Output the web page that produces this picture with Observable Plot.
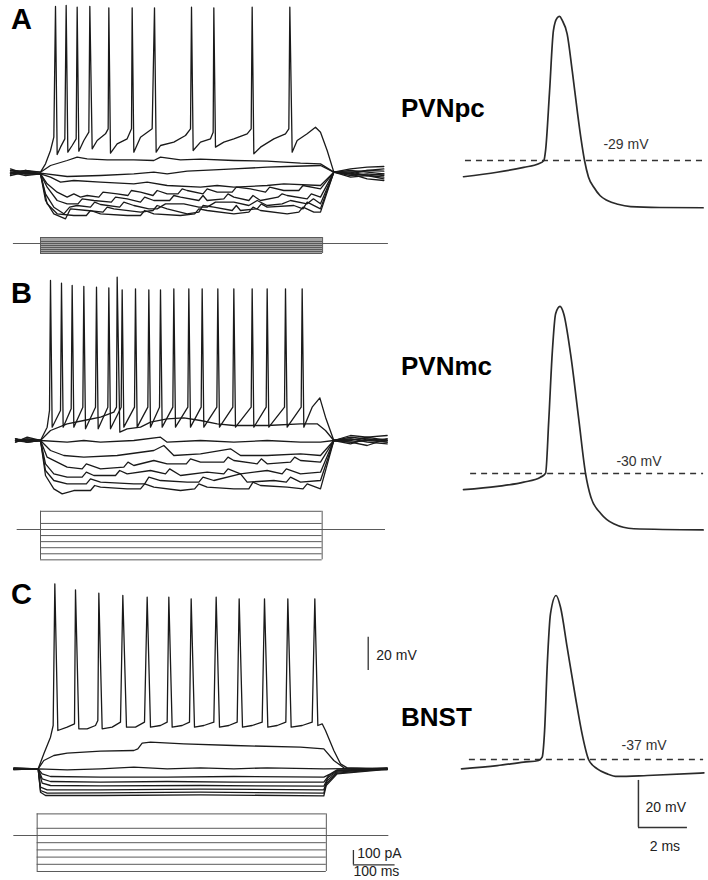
<!DOCTYPE html>
<html><head><meta charset="utf-8">
<script src="https://cdn.jsdelivr.net/npm/d3@7"></script>
<script src="https://cdn.jsdelivr.net/npm/@observablehq/plot@0.6"></script>
<style>
body{margin:0;background:#fff;}
#fig{position:relative;width:708px;height:880px;overflow:hidden;background:#fff;font-family:"Liberation Sans",Arial,sans-serif;}
.lab{position:absolute;font-weight:bold;line-height:1;color:#000;font-family:"Liberation Sans",Arial,sans-serif;white-space:nowrap;}
</style></head><body><div id="fig"></div>
<script>
// ---------- labels ----------
const panelLetters = ["A", "B", "C"];
const regions = ["PVNpc", "PVNmc", "BNST"];
const thresholds = [-29, -30, -37];           // mV (dashed line + label)
const stepCurrents = [150, 50, 0, -50, -100, -150, -200, -250]; // pA protocol levels

// ---------- left traces: [time ms, Vm mV] ----------
// Row A (PVNpc)
const aT1 = [[-72,-64],[-36,-64.4],[0,-65],[12,-60],[24,-52],[32,-44],[36,34.4],[40,-54.4],
[48,-50],[58.4,-45],[61.6,35],[65.6,-53],
[76,-49],[85.6,-45],[88,34],[92,-52.4],
[104,-46],[116,-41],[118.4,34.4],[124,-51],
[136,-46],[156,-42],[162.4,-39],[164,33.6],[168,-53.6],
[184,-48],[208,-45],[218.4,-39],[220,33.6],[224,-53],
[240,-44],[268,-39],[273.6,33.6],[277.6,-53],
[288,-49],[320,-47],[348,-43],[360,-39],[362.4,34],[366.4,-52],
[384,-47],[408,-45],[414.4,-41],[416,33.6],[420,-50],
[440,-47],[464,-45],[496,-42],[505.6,-39],[508,34],[512,-54],
[528,-50],[560,-45],[588,-42],[596,-39],[598.4,34],[604,-53],
[616,-46],[640,-42],[660,-38],[672,-41],[688,-52],[704,-65],
[744,-65],[784,-64],[824,-63]];
const aT2 = [[-72,-66],[-36,-64],[0,-65],[24,-61],[64,-58],[88,-56],[112,-57],[160,-57.6],[224,-57.6],[272,-58],[288,-56],[336,-57.6],[384,-57.2],[464,-58],[544,-58.4],[624,-59.6],[672,-60],[704,-65],[744,-63],[784,-62],[824,-61.6]];
const aT3 = [[-72,-63],[-36,-66],[0,-65.6],[64,-67.6],[144,-67],[224,-66],[272,-65],[304,-66],[352,-64.4],[416,-63.6],[464,-63],[544,-62],[592,-61.6],[672,-61],[704,-65],[744,-66],[784,-67],[824,-68]];
const aT4 = [[-72,-65],[-36,-67],[0,-66],[24,-68],[48,-71],[80,-70],[144,-71],[224,-72],[256,-71],[304,-73],[384,-74],[424,-73],[464,-74],[544,-73],[584,-72],[672,-73],[704,-65],[744,-64],[784,-65],[824,-66]];
const aT5 = [[-72,-67],[-36,-65],[0,-66],[16,-72],[40,-77],[64,-80],[80,-78],[96,-80],[112,-79],[140,-80],[150,-77],[184,-78],[210,-79],[218,-76],[240,-77],[270,-79],[280,-76],[304,-78],[330,-78],[340,-75],[352,-76],[390,-78],[400,-75],[424,-77],[460,-77],[470,-74],[504,-75],[540,-77],[550,-74],[584,-76],[620,-76],[630,-73],[672,-75],[704,-65],[744,-66],[784,-64],[824,-64.4]];
const aT6 = [[-72,-64],[-36,-66],[0,-66],[16,-74],[40,-82],[64,-84],[90,-84],[100,-81],[128,-82],[170,-83],[180,-80],[208,-81],[240,-83],[250,-80],[272,-82],[310,-82],[320,-79],[336,-80],[380,-82],[390,-79],[400,-82],[440,-81],[450,-78],[464,-80],[500,-82],[510,-79],[528,-82],[570,-80],[580,-78],[592,-79],[640,-81],[650,-78],[672,-80],[704,-65],[744,-67],[784,-66],[824,-67]];
const aT7 = [[-72,-66],[-36,-65],[0,-66],[12,-78],[32,-86],[56,-90],[70,-86],[88,-85],[120,-86],[130,-83],[144,-84.4],[190,-86],[200,-83],[224,-85],[260,-87],[280,-87],[300,-84],[344,-84],[380,-86],[400,-86],[420,-83],[464,-83],[500,-85],[520,-82],[544,-85],[580,-84],[600,-82],[640,-84],[655,-81],[672,-84],[704,-65],[744,-68],[784,-67],[824,-69]];
const aT8 = [[-72,-65],[-36,-66],[0,-66],[12,-82],[32,-90],[60,-93],[72,-87],[112,-88],[150,-89],[160,-86],[176,-87],[240,-89],[270,-88],[280,-85],[304,-87],[352,-90],[380,-89],[390,-85],[416,-86],[460,-88],[470,-85],[480,-88],[520,-87],[530,-84],[544,-86],[608,-85],[630,-87],[640,-83],[672,-87],[704,-65],[744,-66],[784,-69],[824,-70]];
const aT9 = [[-72,-66],[-36,-64],[0,-66],[16,-84],[40,-90],[80,-91],[110,-91],[120,-88],[144,-90],[208,-91],[240,-91],[250,-88],[272,-90],[336,-91],[370,-90],[380,-87],[400,-88],[464,-90],[500,-89],[510,-86],[528,-88],[592,-90],[620,-89],[630,-86],[656,-89],[672,-89],[704,-65],[744,-65],[784,-67],[824,-66]];

// Row B (PVNmc)
const bT1 = [[-60,-65],[-32,-64],[0,-65],[16,-57],[21.6,-47],[24,31],[28,-57],
[48,-47],[50.4,29.4],[54.4,-57],
[73.6,-46],[76,28],[80,-57],
[101.6,-45],[104,27.4],[108,-58],
[132,-45],[134.4,27],[138.4,-58],
[161.6,-45],[164,26.6],[168,-58],
[193.6,-45],[196,25.4],[200,-57],
[225.6,-45],[228,26],[232,-57],
[257.6,-45],[260,25.4],[264,-57],
[285.6,-45],[288,25.4],[292,-57],
[317.6,-45],[320,26],[324,-57],
[353.6,-45],[356,26],[360,-57],
[385.6,-45],[388,26],[392,-57],
[423.2,-45],[425.6,26],[429.6,-57],
[461.6,-45],[464,26],[468,-57],
[505.6,-45],[508,26],[512,-57],
[541.6,-45],[544,26],[548,-57],
[585.6,-45],[588,26],[592,-57],
[625.6,-45],[628,26],[632,-57],
[652,-45],[670.4,-39.4],[684,-51],[704,-65],[744,-63],[784,-64],[832,-65]];
const bT2 = [[-60,-64],[-32,-66],[0,-65],[24,-59],[64,-55],[104,-53],[144,-51],[176,-48],[182.4,-45],[184,33],[190.4,-60],[208,-58],[240,-57],[264,-54],[304,-52],[344,-51.4],[384,-53],[424,-55],[464,-56],[544,-56],[624,-55],[664,-55],[684,-59],[704,-65],[744,-62],[784,-63],[832,-62]];
const bT3 = [[-60,-66],[-32,-63],[0,-65],[64,-66],[104,-65],[144,-66],[224,-65],[288,-63],[304,-66],[384,-65],[464,-66],[544,-65],[624,-66],[672,-66],[704,-65],[744,-67],[784,-64],[832,-66]];
const bT4 = [[-60,-65],[-32,-65],[0,-65],[24,-71],[56,-74],[104,-75],[184,-74],[272,-71],[296,-68],[320,-74],[384,-73],[456,-70],[480,-74],[544,-74],[624,-73],[672,-74],[704,-65],[744,-66],[784,-68],[832,-64]];
const bT5 = [[-60,-64],[-32,-66],[0,-65],[16,-75],[40,-78],[64,-81],[100,-82],[110,-79],[144,-82],[200,-81],[210,-78],[224,-80],[272,-77],[304,-79],[350,-79],[360,-76],[384,-78],[440,-78],[450,-75],[464,-77],[520,-79],[530,-76],[544,-79],[600,-78],[610,-75],[624,-77],[672,-78],[704,-65],[744,-64],[784,-66],[832,-67]];
const bT6 = [[-60,-66],[-32,-64],[0,-65],[12,-79],[32,-85],[64,-87],[100,-87],[110,-84],[128,-86],[180,-86],[190,-83],[208,-85],[264,-83],[300,-85],[310,-82],[336,-86],[400,-84],[440,-85],[450,-82],[480,-85],[544,-83],[580,-85],[590,-82],[624,-85],[672,-84],[704,-65],[744,-65],[784,-63],[832,-65]];
const bT7 = [[-60,-65],[-32,-66],[0,-65],[12,-83],[32,-89],[64,-91],[110,-91],[120,-88],[144,-90],[224,-91],[250,-91],[260,-87],[288,-89],[352,-90],[380,-90],[390,-87],[416,-89],[480,-85],[496,-90],[560,-89],[590,-90],[600,-87],[624,-90],[672,-89],[704,-65],[744,-64],[784,-65],[832,-66]];
const bT8 = [[-60,-64],[-32,-65],[0,-65],[12,-86],[32,-94],[52,-97],[80,-95],[120,-95],[130,-92],[144,-93],[208,-94],[240,-94],[250,-91],[272,-93],[336,-95],[370,-94],[380,-91],[400,-93],[464,-94],[500,-94],[510,-90],[528,-92],[592,-93],[630,-94],[640,-91],[672,-94],[704,-65],[744,-66],[784,-65],[832,-64]];

// Row C (BNST)
const cT1 = [[-64,-65],[-5.6,-65],[8,-56],[24,-46],[30.4,-39],[34.4,46],[41.6,-42],
[64,-40],[81.6,-38],[84,42.4],[92,-41],
[112,-41],[132,-39],[137.6,-36],[140,40.4],[148,-41],
[172,-40],[192,-37],[197.6,39],[206.4,-40],
[228,-40],[249.6,-37],[256,38],[264,-40],
[288,-39],[304,-37],[308,38],[316,-40],
[340,-39],[357.6,-37],[361.6,37],[369.6,-40],
[392,-39],[416,-37],[421.6,38],[429.6,-40],
[452,-39],[472,-37],[476.8,37],[484.8,-40],
[508,-39],[532,-37],[537.6,37],[545.6,-40],
[568,-39],[588.8,-37],[593.6,37],[601.6,-40],
[628,-39],[652,-37],[658.4,37],[665.6,-39],
[676,-38],[684,-42],[704,-54],[720,-62],[736,-64.4],[832,-65]];
const cT2 = [[-64,-64.6],[-5.6,-65],[8,-60],[32,-57],[64,-55.6],[144,-54.4],[224,-54],[233.6,-53],[244,-49.6],[264,-49],[344,-50],[464,-51],[624,-52],[680,-53],[704,-60],[728,-64.4],[832,-65.4]];
const cT3 = [[-64,-65.4],[-5.6,-65],[64,-65.6],[144,-65],[224,-64],[304,-65],[384,-64.4],[464,-65],[544,-64.4],[680,-65],[832,-64.6]];
const cT4 = [[-64,-64.5],[-5.6,-65],[4,-68],[24,-69.6],[144,-70],[304,-70],[464,-69.6],[680,-70],[696,-68],[712,-65.6],[832,-65.5]];
const cT5 = [[-64,-65.5],[-5.6,-65],[4,-71],[24,-72.6],[144,-73],[304,-72.6],[464,-73],[680,-73],[692,-69],[712,-66],[832,-64.5]];
const cT6 = [[-64,-64.8],[-5.6,-65],[4,-73.6],[24,-75],[144,-75.2],[384,-75],[680,-75.4],[689.6,-70.4],[712,-66.4],[832,-65.2]];
const cT7 = [[-64,-65.2],[-5.6,-65],[0,-76],[16,-77.6],[144,-77.6],[384,-77.2],[680,-77.6],[688,-72],[712,-67],[832,-64.8]];
const cT8 = [[-64,-65],[-5.6,-65],[0,-78],[16,-79.6],[144,-79.4],[384,-79],[680,-79.6],[686.4,-73.6],[712,-67.6],[832,-65]];
const cT9 = [[-64,-65.3],[-5.6,-65],[0,-79],[12,-81],[144,-81],[384,-80.6],[680,-81.2],[685.6,-75],[712,-68],[832,-65.3]];

// ---------- right: single action potentials [time ms, Vm mV] ----------
const spikeA = [[0,-35.9],[1.37,-34],[2.46,-31.9],[3.07,-30.4],[3.28,-29],[3.35,-24.7],[3.51,0],[3.67,26.3],[3.82,31.6],[3.92,32.3],[4.03,30.6],[4.23,24.9],[4.44,9],[4.64,-7.7],[4.8,-20],[4.94,-29],[5.1,-36],[5.32,-40.4],[5.58,-44],[5.87,-46],[6.3,-47.6],[6.82,-48.6],[8,-49],[9.78,-49.1]];
const spikeB = [[0,-36.9],[1.38,-35.5],[2.46,-33.7],[3.14,-31.6],[3.35,-29.9],[3.48,-7.4],[3.62,20.9],[3.76,38],[3.94,41.1],[4.09,38],[4.37,20.9],[4.71,-7.4],[4.98,-29.9],[5.2,-40.1],[5.61,-47.1],[6.13,-51.4],[6.95,-53.5],[9.78,-54]];
const spikeC = [[-0.08,-41],[1.38,-39.6],[2.46,-38.1],[3.07,-37.4],[3.21,-36],[3.31,-24.7],[3.42,3.7],[3.55,25],[3.78,32.8],[3.96,27.8],[4.23,10.8],[4.57,-10.5],[4.84,-26.1],[5.11,-37.1],[5.46,-41],[5.87,-43.1],[6.27,-44.2],[7.5,-43.8],[9.81,-42.7]];

// ---------- helpers ----------
const fig = document.getElementById("fig");
const FONT = '"Liberation Sans", Arial, sans-serif';
function put(svg, left, top) {
  svg.style.position = "absolute";
  svg.style.left = left + "px";
  svg.style.top = top + "px";
  svg.style.background = "transparent";
  svg.style.overflow = "visible";
  svg.style.maxWidth = "none";
  fig.appendChild(svg);
}
function label(text, left, top, size) {
  const d = document.createElement("div");
  d.className = "lab";
  d.textContent = text;
  d.style.left = left + "px"; d.style.top = top + "px"; d.style.fontSize = size + "px";
  fig.appendChild(d);
}
function rows(traces) {
  return traces.flatMap((pts, i) => pts.map(([t, v]) => ({trace: i, t, v})));
}
function tracePlot(traces, width, height, xd, yd, extra = []) {
  return Plot.plot({
    width, height, margin: 0,
    x: {domain: xd, axis: null}, y: {domain: yd, axis: null},
    style: {background: "transparent", overflow: "visible", fontFamily: FONT},
    marks: [
      Plot.line(rows(traces), {x: "t", y: "v", z: "trace", stroke: "#1a1a1a", strokeWidth: 1.3, strokeLinejoin: "round"}),
      ...extra
    ]
  });
}
function protoPlot(on, off, h0, h1, width, height, xd, yd, filled, extra = []) {
  const hi = d3.max(stepCurrents), lo = d3.min(stepCurrents);
  const c = "#5a5a5a";
  return Plot.plot({
    width, height, margin: 0,
    x: {domain: xd, axis: null}, y: {domain: yd, axis: null},
    style: {background: "transparent", overflow: "visible", fontFamily: FONT},
    marks: [
      filled ? Plot.rect([0], {x1: on, x2: off, y1: hi, y2: lo, fill: "#a3a3a3"}) : null,
      Plot.ruleY([0], {x1: h0, x2: h1, stroke: c, strokeWidth: 1.1}),
      Plot.ruleY(stepCurrents, {x1: on, x2: off, stroke: c, strokeWidth: 1}),
      Plot.ruleX([on, off], {y1: hi, y2: lo, stroke: c, strokeWidth: 1}),
      ...extra
    ]
  });
}
function spikePlot(spike, thr, dashFrom, labelT, labelDy, height, yd, extra = []) {
  return Plot.plot({
    width: 318, height, margin: 0,
    x: {domain: [-2.98, 10], axis: null}, y: {domain: yd, axis: null},
    style: {background: "transparent", overflow: "visible", fontFamily: FONT},
    marks: [
      Plot.ruleY([thr], {x1: dashFrom, x2: 9.8, stroke: "#333", strokeWidth: 1.5, strokeDasharray: "6,5"}),
      Plot.line(spike, {x: d => d[0], y: d => d[1], curve: "monotone-x", stroke: "#2a2a2a", strokeWidth: 1.7}),
      Plot.text([`${thr} mV`], {x: labelT, y: thr, dy: labelDy, text: d => d, textAnchor: "start", fontSize: 14, fill: "#333"}),
      ...extra
    ]
  });
}

// ---------- row A ----------
put(tracePlot([aT1, aT2, aT3, aT4, aT5, aT6, aT7, aT8, aT9], 400, 230, [-96, 864], [-100, 38]), 0, 0);
put(protoPlot(0, 677, -65, 835, 400, 32, [-96, 864], [-425, 375], true), 0, 228);
put(spikePlot(spikeA, thresholds[0], 0.08, 5.71, -16, 230, [-58.78, 39.09]), 390, 0);

// ---------- row B ----------
put(tracePlot([bT1, bT2, bT3, bT4, bT5, bT6, bT7, bT8], 400, 240, [-96, 864], [-101, 43]), 0, 260);
put(protoPlot(0, 676, -56, 828, 400, 60, [-96, 864], [-296.5, 197.7], false), 0, 505);
put(spikePlot(spikeB, thresholds[1], 0.29, 6.24, -12, 280, [-58.51, 60.64]), 390, 260);

// ---------- row C ----------
const mvBar = [
  Plot.ruleX([786.5], {y1: -6, y2: 14, stroke: "#333", strokeWidth: 1.3}),
  Plot.text(["20 mV"], {x: 806, y: 3, text: d => d, textAnchor: "start", fontSize: 14, fill: "#222"})
];
put(tracePlot([cT1, cT2, cT3, cT4, cT5, cT6, cT7, cT8, cT9], 420, 240, [-96, 912], [-90, 54], mvBar), 0, 570);
const paBar = [
  Plot.ruleX([751], {y1: -104, y2: -204, stroke: "#333", strokeWidth: 1.3}),
  Plot.ruleY([-204], {x1: 751, x2: 851, stroke: "#333", strokeWidth: 1.3}),
  Plot.text(["100 pA"], {x: 760, y: -124, text: d => d, textAnchor: "start", fontSize: 14, fill: "#222"}),
  Plot.text(["100 ms"], {x: 751, y: -249, text: d => d, textAnchor: "start", fontSize: 14, fill: "#222"})
];
put(protoPlot(-8, 686, -64, 836, 420, 75, [-96, 912], [-312.5, 208.3], false, paBar), 0, 805);
const apBar = [
  Plot.ruleX([7.14], {y1: -65.9, y2: -45.9, stroke: "#333", strokeWidth: 1.5}),
  Plot.ruleY([-65.9], {x1: 7.14, x2: 9.14, stroke: "#333", strokeWidth: 1.5}),
  Plot.text(["20 mV"], {x: 7.43, y: -57.4, text: d => d, textAnchor: "start", fontSize: 14, fill: "#222"}),
  Plot.text(["2 ms"], {x: 7.6, y: -74, text: d => d, textAnchor: "start", fontSize: 14, fill: "#222"})
];
put(spikePlot(spikeC, thresholds[2], 0.24, 6.45, -14, 290, [-79.97, 43.43], apBar), 390, 570);

// ---------- text labels ----------
label(panelLetters[0], 11, 4.5, 29);
label(panelLetters[1], 11, 279, 29);
label(panelLetters[2], 11, 579.5, 29);
label(regions[0], 401, 94.7, 26);
label(regions[1], 401, 353, 26);
label(regions[2], 401, 703.7, 26);
</script>
</body></html>
